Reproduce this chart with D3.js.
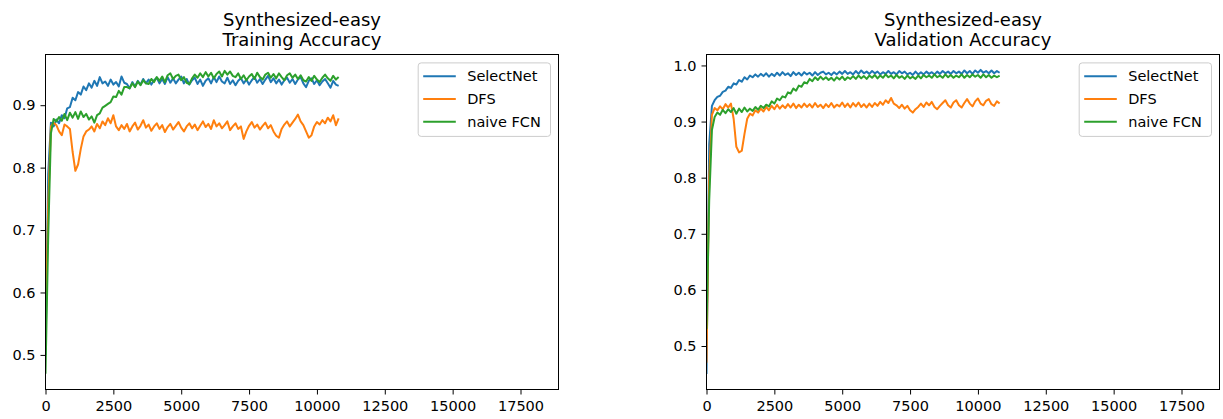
<!DOCTYPE html>
<html>
<head>
<meta charset="utf-8">
<script src="https://cdn.jsdelivr.net/npm/d3@7"></script>
<style>
    body { margin: 0; background: #fff; }
    svg { display: block; font-family: "DejaVu Sans", sans-serif; }
    .tick text { fill: #000; }
</style>
</head>
<body>
<svg id="chart" width="1223" height="419"></svg>
<script>
// Data, one value every 100 iterations, from 0 to 10800
var stepSize = 100;
var seriesNames = ['SelectNet', 'DFS', 'naive FCN'];
var seriesColors = ['#1f77b4', '#ff7f0e', '#2ca02c'];
var xTicks = [0, 2500, 5000, 7500, 10000, 12500, 15000, 17500];
var trainTicks = [0.5, 0.6, 0.7, 0.8, 0.9];
var validTicks = [0.5, 0.6, 0.7, 0.8, 0.9, 1.0];

var trainSelectNet = [
    0.50, 0.79, 0.872, 0.866, 0.877, 0.871, 0.884, 0.879, 0.895, 0.897,
    0.912, 0.908, 0.921, 0.917, 0.930, 0.924, 0.935, 0.928, 0.939, 0.931,
    0.945, 0.935, 0.938, 0.931, 0.941, 0.933, 0.937, 0.930, 0.946, 0.936,
    0.934, 0.927, 0.937, 0.930, 0.939, 0.933, 0.942, 0.935, 0.941, 0.933,
    0.940, 0.944, 0.935, 0.942, 0.934, 0.945, 0.936, 0.943, 0.935, 0.941,
    0.946, 0.935, 0.942, 0.933, 0.940, 0.944, 0.934, 0.941, 0.931, 0.939,
    0.943, 0.935, 0.945, 0.937, 0.946, 0.938, 0.935, 0.944, 0.934, 0.940,
    0.932, 0.939, 0.943, 0.935, 0.941, 0.933, 0.940, 0.945, 0.936, 0.942,
    0.934, 0.941, 0.947, 0.937, 0.943, 0.935, 0.941, 0.933, 0.940, 0.944,
    0.936, 0.942, 0.934, 0.941, 0.945, 0.935, 0.929, 0.939, 0.943, 0.934,
    0.940, 0.932, 0.938, 0.942, 0.935, 0.928, 0.939, 0.933, 0.931
];
var trainDFS = [
    0.53, 0.74, 0.866, 0.872, 0.868, 0.858, 0.852, 0.869, 0.866, 0.862,
    0.825, 0.795, 0.805, 0.830, 0.850, 0.858, 0.861, 0.866, 0.858, 0.870,
    0.863, 0.874, 0.868, 0.879, 0.871, 0.884, 0.866, 0.860, 0.868, 0.862,
    0.870, 0.858, 0.866, 0.872, 0.861, 0.867, 0.876, 0.864, 0.869, 0.859,
    0.866, 0.871, 0.862, 0.868, 0.857, 0.865, 0.870, 0.861, 0.867, 0.873,
    0.864, 0.858, 0.866, 0.871, 0.863, 0.869, 0.860, 0.867, 0.874, 0.865,
    0.870, 0.862, 0.876, 0.866, 0.871, 0.863, 0.868, 0.874, 0.860, 0.866,
    0.871, 0.862, 0.866, 0.846, 0.858, 0.867, 0.873, 0.864, 0.869, 0.861,
    0.867, 0.872, 0.863, 0.868, 0.858, 0.851, 0.848, 0.862, 0.869, 0.874,
    0.866, 0.872, 0.878, 0.885, 0.874, 0.868, 0.858, 0.848, 0.852, 0.866,
    0.873, 0.869, 0.876, 0.871, 0.880, 0.874, 0.884, 0.868, 0.879
];
var trainFCN = [
    0.47, 0.69, 0.855, 0.878, 0.874, 0.881, 0.875, 0.886, 0.876, 0.888,
    0.880, 0.889, 0.878, 0.890, 0.881, 0.886, 0.877, 0.882, 0.872, 0.884,
    0.887, 0.896, 0.899, 0.902, 0.905, 0.914, 0.913, 0.923, 0.917, 0.929,
    0.929, 0.927, 0.935, 0.929, 0.938, 0.932, 0.940, 0.935, 0.934, 0.942,
    0.937, 0.945, 0.939, 0.946, 0.937, 0.948, 0.951, 0.942, 0.947, 0.949,
    0.940, 0.945, 0.936, 0.934, 0.943, 0.949, 0.944, 0.951, 0.945, 0.953,
    0.946, 0.952, 0.943, 0.950, 0.954, 0.946, 0.955, 0.949, 0.954, 0.947,
    0.945, 0.951, 0.942, 0.948, 0.940, 0.946, 0.950, 0.942, 0.952, 0.945,
    0.941, 0.949, 0.952, 0.944, 0.950, 0.943, 0.951, 0.945, 0.940, 0.948,
    0.951, 0.944, 0.949, 0.942, 0.948, 0.940, 0.938, 0.945, 0.939, 0.947,
    0.941, 0.937, 0.944, 0.949, 0.943, 0.939, 0.947, 0.941, 0.945
];

var validSelectNet = [
    0.45, 0.86, 0.928, 0.938, 0.944, 0.946, 0.953, 0.955, 0.962, 0.960,
    0.968, 0.966, 0.974, 0.971, 0.979, 0.975, 0.982, 0.979, 0.984, 0.980,
    0.985, 0.981, 0.986, 0.980, 0.985, 0.981, 0.987, 0.982, 0.988, 0.983,
    0.986, 0.981, 0.988, 0.983, 0.987, 0.982, 0.988, 0.984, 0.987, 0.982,
    0.988, 0.983, 0.987, 0.989, 0.984, 0.987, 0.983, 0.988, 0.984, 0.989,
    0.985, 0.990, 0.985, 0.988, 0.984, 0.990, 0.985, 0.991, 0.986, 0.989,
    0.985, 0.990, 0.986, 0.989, 0.984, 0.988, 0.985, 0.990, 0.985, 0.988,
    0.984, 0.990, 0.986, 0.989, 0.984, 0.987, 0.983, 0.989, 0.984, 0.988,
    0.984, 0.989, 0.985, 0.988, 0.984, 0.989, 0.985, 0.990, 0.986, 0.989,
    0.985, 0.990, 0.986, 0.989, 0.985, 0.991, 0.986, 0.990, 0.985, 0.991,
    0.987, 0.992, 0.987, 0.990, 0.986, 0.991, 0.986, 0.990, 0.987
];
var validDFS = [
    0.47, 0.80, 0.912, 0.924, 0.920, 0.927, 0.922, 0.931, 0.925, 0.932,
    0.905, 0.855, 0.845, 0.848, 0.878, 0.905, 0.914, 0.911, 0.920, 0.916,
    0.923, 0.918, 0.926, 0.920, 0.928, 0.922, 0.930, 0.923, 0.929, 0.924,
    0.931, 0.925, 0.932, 0.924, 0.930, 0.925, 0.932, 0.926, 0.931, 0.925,
    0.933, 0.926, 0.930, 0.924, 0.931, 0.926, 0.933, 0.925, 0.930, 0.927,
    0.934, 0.926, 0.932, 0.925, 0.933, 0.927, 0.934, 0.926, 0.931, 0.925,
    0.932, 0.926, 0.933, 0.928, 0.935, 0.930, 0.938, 0.933, 0.942, 0.932,
    0.929, 0.924, 0.930, 0.923, 0.928, 0.920, 0.916, 0.922, 0.926, 0.932,
    0.926, 0.934, 0.929, 0.935, 0.926, 0.922, 0.928, 0.933, 0.938, 0.929,
    0.925, 0.934, 0.938, 0.929, 0.925, 0.933, 0.940, 0.932, 0.927, 0.936,
    0.941, 0.932, 0.929, 0.937, 0.940, 0.931, 0.928, 0.936, 0.932
];
var validFCN = [
    0.53, 0.76, 0.885, 0.908, 0.916, 0.912, 0.921, 0.915, 0.922, 0.917,
    0.924, 0.914, 0.923, 0.917, 0.925, 0.918, 0.923, 0.919, 0.926, 0.921,
    0.928, 0.924, 0.930, 0.927, 0.936, 0.932, 0.941, 0.938, 0.945, 0.943,
    0.952, 0.950, 0.959, 0.955, 0.964, 0.962, 0.970, 0.968, 0.976, 0.972,
    0.979, 0.974, 0.980, 0.975, 0.979, 0.974, 0.978, 0.973, 0.979, 0.975,
    0.980, 0.974, 0.979, 0.976, 0.981, 0.976, 0.982, 0.977, 0.981, 0.976,
    0.982, 0.978, 0.983, 0.977, 0.982, 0.978, 0.984, 0.979, 0.982, 0.977,
    0.983, 0.978, 0.981, 0.976, 0.982, 0.977, 0.980, 0.976, 0.982, 0.977,
    0.983, 0.979, 0.982, 0.978, 0.984, 0.979, 0.982, 0.978, 0.984, 0.979,
    0.983, 0.978, 0.982, 0.979, 0.984, 0.978, 0.983, 0.979, 0.984, 0.980,
    0.983, 0.978, 0.984, 0.979, 0.983, 0.978, 0.982, 0.979, 0.982
];

var svg = d3.select('#chart');

function drawPanel(cfg) {
    var g = svg.append('g').attr('id', cfg.id);

    var xScale = d3.scaleLinear().domain([0, 18900]).range([cfg.left, cfg.right]);
    var yScale = d3.scaleLinear().domain(cfg.yDomain).range([cfg.bottom, cfg.top]);

    // Title (two lines)
    var cx = (cfg.left + cfg.right) / 2;
    var title = g.append('text').attr('text-anchor', 'middle')
                                .attr('font-size', '18px')
                                .attr('fill', '#000');
    title.append('tspan').attr('x', cx).attr('y', 26).text(cfg.title[0]);
    title.append('tspan').attr('x', cx).attr('y', 46).text(cfg.title[1]);

    // Lines, clipped to the axes box
    g.append('clipPath').attr('id', cfg.id + '-clip')
     .append('rect').attr('x', cfg.left).attr('y', cfg.top)
                    .attr('width', cfg.right - cfg.left).attr('height', cfg.bottom - cfg.top);

    var line = d3.line()
        .x((d, i) => xScale(i * stepSize))
        .y((d) => yScale(d));

    g.append('g').attr('clip-path', 'url(#' + cfg.id + '-clip)')
     .selectAll('path').data(cfg.series).enter().append('path')
        .attr('d', (d) => line(d))
        .attr('fill', 'none')
        .attr('stroke', (d, i) => seriesColors[i])
        .attr('stroke-width', 2)
        .attr('stroke-linejoin', 'round');

    // Axes
    var xAxis = g.append('g').attr('transform', 'translate(0,' + cfg.bottom + ')')
        .call(d3.axisBottom(xScale).tickValues(xTicks).tickFormat(d3.format('d'))
                .tickSize(5).tickSizeOuter(0).tickPadding(6));
    var yAxis = g.append('g').attr('transform', 'translate(' + cfg.left + ',0)')
        .call(d3.axisLeft(yScale).tickValues(cfg.yTicks).tickFormat(d3.format('.1f'))
                .tickSize(5).tickSizeOuter(0).tickPadding(5));
    [xAxis, yAxis].forEach(function(ax) {
        ax.select('.domain').remove();
        ax.attr('font-size', '14.5px').attr('font-family', '"DejaVu Sans", sans-serif');
        ax.selectAll('.tick line').attr('stroke', '#000').attr('stroke-width', 1);
    });

    // Frame
    g.append('rect').attr('x', cfg.left).attr('y', cfg.top)
                    .attr('width', cfg.right - cfg.left).attr('height', cfg.bottom - cfg.top)
                    .attr('fill', 'none').attr('stroke', '#000').attr('stroke-width', 1);

    // Legend
    var lw = 132.3, lh = 73.5;
    var lx = cfg.right - 8 - lw, ly = cfg.top + 8.4;
    var legend = g.append('g').attr('transform', 'translate(' + lx + ',' + ly + ')');
    legend.append('rect').attr('width', lw).attr('height', lh).attr('rx', 3)
          .attr('fill', '#fff').attr('fill-opacity', 0.8)
          .attr('stroke', '#cccccc').attr('stroke-width', 1);
    var items = legend.selectAll('g.item').data(seriesNames).enter().append('g')
        .classed('item', true)
        .attr('transform', (d, i) => 'translate(0,' + (13.3 + i * 22.8) + ')');
    items.append('line').attr('x1', 5).attr('x2', 37.6)
         .attr('stroke', (d, i) => seriesColors[i]).attr('stroke-width', 2);
    items.append('text').attr('x', 49).attr('dy', '0.36em')
         .attr('font-size', '14.5px').attr('fill', '#000').text((d) => d);
}

drawPanel({
    id: 'train', left: 45.5, right: 558.5, top: 54.5, bottom: 389.5,
    yDomain: [0.4446, 0.9812], yTicks: trainTicks,
    title: ['Synthesized-easy', 'Training Accuracy'],
    series: [trainSelectNet, trainDFS, trainFCN]
});
drawPanel({
    id: 'valid', left: 706.5, right: 1219.5, top: 54.5, bottom: 389.5,
    yDomain: [0.4225, 1.0195], yTicks: validTicks,
    title: ['Synthesized-easy', 'Validation Accuracy'],
    series: [validSelectNet, validDFS, validFCN]
});
</script>
</body>
</html>
